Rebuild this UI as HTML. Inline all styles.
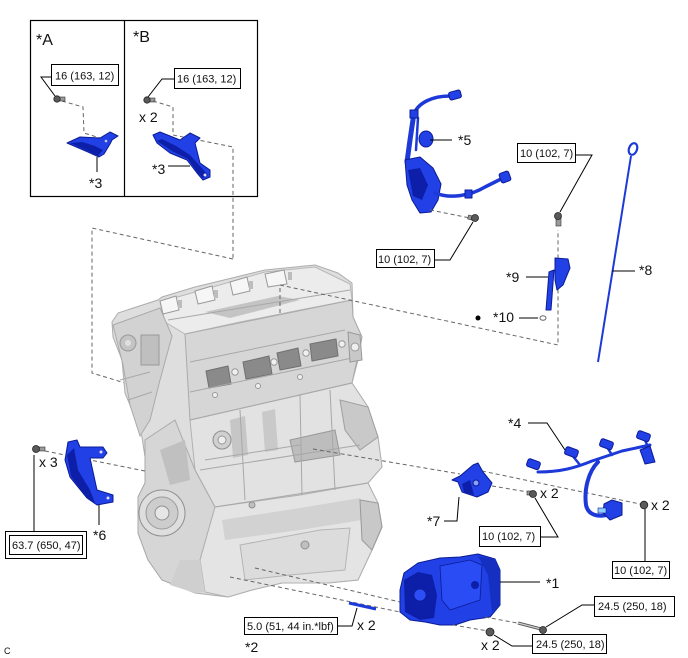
<!DOCTYPE html>
<html><head><meta charset="utf-8">
<style>
html,body{margin:0;padding:0;background:#fff;}
svg{display:block;}
text{font-family:"Liberation Sans",Arial,sans-serif;fill:#111;}
.lbl{font-size:11px;}
.st{font-size:14px;}
.box{fill:#fff;stroke:#000;stroke-width:1;}
.ld{fill:none;stroke:#000;stroke-width:1;}
.ds{fill:none;stroke:#666;stroke-width:1;stroke-dasharray:4 3;}
.bl{fill:#2140e6;stroke:#0b1c95;stroke-width:1;stroke-linejoin:round;}
.dk{fill:#0d1ea8;stroke:none;}
.wr{fill:none;stroke:#1d3ad8;stroke-linecap:round;stroke-linejoin:round;}
.en{fill:#dedede;stroke:#adadad;stroke-width:1;}
.ed{fill:none;stroke:#a8a8a8;stroke-width:1;}
.bh{fill:#5a5a5a;stroke:#222;stroke-width:0.8;}
.bs{fill:#9a9a9a;stroke:#333;stroke-width:0.6;}
</style></head><body>
<svg width="688" height="658" viewBox="0 0 688 658" xmlns="http://www.w3.org/2000/svg">

<!-- A/B box -->
<rect x="30.5" y="20.5" width="227" height="176" fill="none" stroke="#000" stroke-width="1.2"/>
<line x1="124.5" y1="20" x2="124.5" y2="196" stroke="#000" stroke-width="1.2"/>
<text x="36" y="45" style="font-size:16px">*A</text>
<text x="133" y="42" style="font-size:16px">*B</text>

<!-- A contents -->
<rect class="box" x="51.5" y="64.5" width="67" height="21"/>
<text class="lbl" x="55" y="79.5">16 (163, 12)</text>
<polyline class="ld" points="51,77 41,77 55,96"/>
<polyline class="ds" points="62,101 83,107 84,133 100,138"/>
<rect class="bs" x="57" y="97" width="8" height="4"/>
<circle class="bh" cx="57" cy="99" r="3.2"/>
<path class="bl" d="M67,143 L80,137 L100,138 L110,132 L118,136 L112,140 L110,144 L104,154 L99,157 L88,152 Z"/>
<path class="dk" d="M70,143 L88,151 L98,156 L103,150 L95,146 L82,142 Z"/>
<circle cx="106" cy="141" r="1.3" fill="#ccd"/>
<line class="ld" x1="97" y1="157" x2="97" y2="172"/>
<text class="st" x="89" y="188">*3</text>

<!-- B contents -->
<rect class="box" x="174.5" y="68.5" width="66" height="20"/>
<text class="lbl" x="177" y="82.5">16 (163, 12)</text>
<polyline class="ld" points="174,79 162,79 148,97"/>
<rect class="bs" x="147" y="98" width="8" height="4"/>
<circle class="bh" cx="147" cy="100" r="3.2"/>
<text class="st" x="139" y="122">x 2</text>
<polyline class="ds" points="153,101 173,107 173,135 233,147 233,259"/>
<path class="bl" d="M153,135 L160,132 L180,140 L190,133 L200,138 L195,143 L200,163 L210,170 L210,177 L203,180 L197,173 L187,160 L170,153 L157,143 Z"/>
<path class="dk" d="M157,141 L172,151 L188,159 L197,172 L203,178 L208,175 L199,165 L190,155 L176,146 L162,139 Z"/>
<circle cx="205" cy="175" r="1.5" fill="#dde"/>
<line class="ld" x1="168" y1="166" x2="190" y2="166"/>
<text class="st" x="152" y="174">*3</text>

<!-- dashed lines left of engine -->
<polyline class="ds" points="233,259 92,228 92,373 125,383"/>

<!-- ENGINE -->
<g>
<path class="en" d="M112,322 L118,313 L158,300 L162,297 L195,287 L232,278 L265,270 L315,265 L338,273 L352,283 L353,317 L362,337 L358,360 L352,383 L368,407 L378,437 L382,467 L368,483 L378,503 L382,527 L372,550 L358,580 L328,583 L282,583 L252,590 L228,597 L195,593 L162,580 L148,560 L138,533 L138,497 L145,483 L145,457 L142,437 L132,410 L125,393 L122,360 L113,337 Z"/>
<!-- cam cover top -->
<path d="M160,302 L265,272 L315,267 L350,284 L352,300 L300,310 L240,322 L185,334 L165,322 Z" fill="#ececec" stroke="#b8b8b8"/>
<path d="M205,312 L278,296 L300,300 L230,318 Z" fill="#c4c4c4"/>
<path class="ed" d="M168,320 L350,290"/>
<!-- coil packs -->
<g fill="#f6f6f6" stroke="#9a9a9a">
<path d="M160,301 L176,296 L179,310 L163,314 Z"/>
<path d="M195,291 L212,286 L215,300 L198,304 Z"/>
<path d="M230,282 L247,277 L250,291 L233,295 Z"/>
<path d="M265,274 L284,270 L287,284 L268,287 Z"/>
</g>
<g fill="#bdbdbd"><rect x="178" y="300" width="4" height="8"/><rect x="214" y="290" width="4" height="8"/><rect x="249" y="281" width="4" height="8"/><rect x="288" y="272" width="4" height="8"/></g>
<!-- timing cover left -->
<path d="M113,325 L160,308 L172,336 L160,380 L150,420 L140,436 L130,405 L123,365 Z" fill="#d2d2d2" stroke="#aaa"/>
<circle cx="128" cy="343" r="8" fill="#c4c4c4" stroke="#999"/>
<circle cx="128" cy="343" r="3" fill="#e0e0e0"/>
<rect x="141" y="335" width="18" height="30" fill="#bfbfbf" stroke="#999"/>
<path class="ed" d="M120,380 L150,372 M128,400 L152,392"/>
<!-- side face -->
<path d="M185,334 L352,300 L353,317 L362,337 L352,383 L300,395 L240,410 L190,420 Z" fill="#d6d6d6" stroke="#aaa"/>
<!-- intake windows -->
<g fill="#8a8a8a" stroke="#707070">
<path d="M206,371 L228,366 L231,384 L209,388 Z"/>
<path d="M243,362 L269,356 L272,374 L246,379 Z"/>
<path d="M277,353 L298,348 L301,366 L280,370 Z"/>
<path d="M310,344 L336,339 L338,356 L312,361 Z"/>
</g>
<g fill="#f0f0f0" stroke="#999">
<circle cx="235" cy="372" r="3.2"/><circle cx="274" cy="362" r="3.2"/><circle cx="306" cy="353" r="3.2"/><circle cx="342" cy="344" r="3.2"/>
<circle cx="215" cy="395" r="2.5"/><circle cx="258" cy="386" r="2.5"/><circle cx="300" cy="377" r="2.5"/>
</g>
<path class="ed" d="M190,392 L352,358"/>
<path class="ed" d="M190,362 L345,330"/>
<!-- right flange -->
<path d="M348,332 L360,335 L362,360 L350,362 Z" fill="#c8c8c8" stroke="#999"/>
<circle cx="355" cy="347" r="4" fill="#eee" stroke="#999"/>
<!-- block middle -->
<path d="M190,420 L300,395 L352,383 L368,407 L378,437 L382,467 L368,483 L300,495 L215,507 L195,470 Z" fill="#e2e2e2" stroke="#b0b0b0"/>
<path d="M230,420 L245,416 L248,455 L233,458 Z" fill="#c6c6c6"/>
<path d="M262,412 L275,409 L278,450 L265,452 Z" fill="#c9c9c9"/>
<path d="M290,440 L335,430 L340,455 L295,462 Z" fill="#bdbdbd" stroke="#999"/>
<circle cx="222" cy="440" r="9" fill="#d0d0d0" stroke="#8f8f8f"/>
<circle cx="222" cy="440" r="4" fill="#eee" stroke="#999"/>
<path d="M340,400 L368,407 L378,437 L360,450 L345,430 Z" fill="#c9c9c9" stroke="#a0a0a0"/>
<path class="ed" d="M200,470 L360,445"/>
<path class="ed" d="M205,460 L300,445"/>
<!-- front left region with pulley -->
<path d="M145,440 L175,420 L195,470 L215,507 L200,560 L175,585 L162,580 L148,560 L138,533 L138,497 L145,483 Z" fill="#d6d6d6" stroke="#aaa"/>
<path d="M160,450 L185,440 L190,480 L170,485 Z" fill="#c0c0c0"/>
<circle cx="162" cy="513" r="23" fill="#dedede" stroke="#8f8f8f"/>
<circle cx="162" cy="513" r="16" fill="#cdcdcd" stroke="#9a9a9a"/>
<circle cx="162" cy="513" r="7" fill="#e6e6e6" stroke="#909090"/>
<!-- oil pan -->
<path d="M215,507 L300,495 L368,483 L378,503 L382,527 L372,550 L358,580 L328,583 L282,583 L252,590 L228,597 L205,592 L200,560 Z" fill="#e4e4e4" stroke="#b0b0b0"/>
<path d="M222,520 L300,508 L360,498 L362,520 L300,530 L225,540 Z" fill="#d2d2d2"/>
<path d="M240,545 L320,530 L350,528 L345,570 L290,575 L245,580 Z" fill="#dcdcdc" stroke="#b5b5b5"/>
<circle cx="305" cy="545" r="4" fill="#c0c0c0" stroke="#8f8f8f"/>
<circle cx="252" cy="505" r="3" fill="#c0c0c0" stroke="#8f8f8f"/>
<path class="ed" d="M215,507 L368,483"/>
<path class="ed" d="M190,420 L352,383"/>
<path class="ed" d="M240,410 L245,500"/>
<path class="ed" d="M300,395 L302,495"/>
<path class="ed" d="M330,390 L335,490"/>
<path d="M360,500 L378,503 L382,527 L372,550 L362,540 Z" fill="#c8c8c8" stroke="#999"/>
<path d="M180,560 L200,560 L205,592 L195,593 L170,585 Z" fill="#cfcfcf"/>
</g>

<!-- dashed: top engine to *9 -->
<polyline class="ds" points="280,313 280,285 558,345 558,230"/>

<!-- *5 harness -->
<path class="wr" d="M414,114 C418,103 432,96 450,96" stroke-width="3.5"/>
<rect x="449" y="91" width="12" height="8" rx="2" class="bl" transform="rotate(-15 455 95)"/>
<path class="wr" d="M414,113 L410,140 L407,162" stroke-width="5"/>
<path class="wr" d="M418,118 L416,150" stroke-width="2.5"/>
<rect x="410" y="110" width="8" height="8" class="bl"/>
<ellipse cx="426" cy="139" rx="7" ry="8" class="bl"/>
<path class="bl" d="M405,160 L420,157 L433,168 L441,184 L438,200 L431,212 L420,213 L412,200 L407,185 Z"/>
<path class="dk" d="M408,170 L420,168 L428,185 L422,200 L413,196 Z"/>
<path class="wr" d="M435,193 C450,199 470,196 485,187 L503,178" stroke-width="3.5"/>
<rect x="500" y="172" width="10" height="10" rx="2" class="bl" transform="rotate(-20 505 177)"/>
<rect x="465" y="190" width="7" height="8" class="bl"/>
<line class="ld" x1="430" y1="140" x2="452" y2="140"/>
<text class="st" x="458" y="145">*5</text>
<polyline class="ds" points="430,210 470,218"/>
<rect class="bs" x="468" y="216" width="8" height="4" transform="rotate(15 472 218)"/>
<circle class="bh" cx="475" cy="218" r="3.5"/>
<rect class="box" x="376.5" y="249.5" width="58" height="18"/>
<text class="lbl" x="378" y="263">10 (102, 7)</text>
<polyline class="ld" points="435,260 450,260 473,222"/>

<!-- *9, *10, *8 -->
<rect class="box" x="517.5" y="143.5" width="58" height="19"/>
<text class="lbl" x="520" y="157">10 (102, 7)</text>
<polyline class="ld" points="576,155 592,155 560,212"/>
<rect class="bs" x="556" y="216" width="5" height="10"/>
<circle class="bh" cx="558" cy="216" r="3.5"/>
<path class="bl" d="M555,258 L568,259 L570,268 L563,285 L557,290 L555,280 Z"/>
<path class="bl" d="M549,272 L554,270 L551,310 L546,310 Z"/>
<line class="ld" x1="526" y1="277" x2="548" y2="277"/>
<text class="st" x="506" y="282">*9</text>
<circle cx="478" cy="318" r="2.5" fill="#000"/>
<text class="st" x="493" y="322">*10</text>
<line class="ld" x1="519" y1="318" x2="538" y2="318"/>
<ellipse cx="543" cy="318" rx="3" ry="2.3" fill="#fff" stroke="#666"/>
<ellipse cx="633" cy="149" rx="4" ry="6" fill="none" stroke="#1d3ad8" stroke-width="2.2" transform="rotate(20 633 149)"/>
<line x1="631" y1="156" x2="598" y2="362" stroke="#1d3ad8" stroke-width="2"/>
<line class="ld" x1="612" y1="271" x2="635" y2="271"/>
<text class="st" x="639" y="275">*8</text>

<!-- *6 -->
<polyline class="ds" points="45,451 145,471"/>
<rect class="bs" x="36" y="447" width="9" height="4"/>
<circle class="bh" cx="36" cy="449" r="3.5"/>
<text class="st" x="39" y="467">x 3</text>
<line class="ld" x1="34" y1="455" x2="34" y2="531"/>
<path class="bl" d="M68,442 L77,440 L80,447 L103,447 L107,453 L103,458 L90,458 L97,490 L113,495 L113,502 L97,505 L87,498 L70,477 L65,460 Z"/>
<path class="dk" d="M67,455 L74,448 L78,470 L90,490 L95,503 L86,497 L71,476 Z"/>
<circle cx="101" cy="452" r="1.5" fill="#dde"/><circle cx="108" cy="498" r="1.5" fill="#dde"/>
<line class="ld" x1="99" y1="505" x2="99" y2="525"/>
<text class="st" x="93" y="540">*6</text>
<rect class="box" x="5.5" y="531.5" width="81" height="27"/>
<rect class="box" x="9.5" y="535.5" width="73" height="19"/>
<text class="lbl" x="12" y="549">63.7 (650, 47)</text>

<!-- *7, *4 region -->
<polyline class="ds" points="313,449 460,474"/>
<polyline class="ds" points="482,471 640,504"/>
<polyline class="ds" points="492,486 528,492"/>
<path class="bl" d="M473,465 L478,463 L483,472 L492,483 L488,492 L477,497 L462,492 L458,482 L452,480 L460,476 Z"/>
<path class="dk" d="M462,484 L470,480 L474,495 L464,492 Z"/>
<circle cx="476" cy="483" r="3" fill="#8aa0f5" stroke="#0b1c95"/>
<polyline class="ld" points="444,521 457,521 459,497"/>
<text class="st" x="427" y="526">*7</text>
<rect class="bs" x="527" y="491" width="7" height="4"/>
<circle class="bh" cx="533" cy="494" r="3.5"/>
<text class="st" x="540" y="498">x 2</text>
<rect class="box" x="479.5" y="526.5" width="61" height="20"/>
<text class="lbl" x="482" y="540">10 (102, 7)</text>
<polyline class="ld" points="541,537 558,537 535,498"/>

<!-- *4 harness -->
<path class="wr" d="M538,472 C560,472 575,468 592,461 L622,451 L650,445" stroke-width="3"/>
<path class="wr" d="M572,455 L580,465 M607,447 L612,455 M645,440 L648,447" stroke-width="2.5"/>
<path class="wr" d="M598,462 C588,472 584,490 586,505 C588,515 598,518 610,514" stroke-width="4"/>
<path class="wr" d="M598,462 C588,472 584,490 586,505" stroke-width="1.2" stroke="#6f8af5"/>
<rect x="527" y="460" width="13" height="8" rx="2" class="bl" transform="rotate(20 533 464)"/>
<rect x="565" y="448" width="13" height="8" rx="2" class="bl" transform="rotate(20 571 452)"/>
<rect x="600" y="440" width="13" height="8" rx="2" class="bl" transform="rotate(20 606 444)"/>
<rect x="637" y="432" width="13" height="8" rx="2" class="bl" transform="rotate(20 643 436)"/>
<path class="bl" d="M640,450 L650,446 L655,462 L645,464 Z"/>
<path class="bl" d="M604,504 L612,500 L622,503 L622,515 L610,520 L603,513 Z"/>
<rect x="598" y="508" width="8" height="5" fill="#8fd0ff" stroke="#0b1c95" stroke-width="0.6"/>
<polyline class="ld" points="528,423 547,423 565,450"/>
<text class="st" x="508" y="428">*4</text>
<circle class="bh" cx="644" cy="505" r="3.8"/>
<text class="st" x="651" y="510">x 2</text>
<line class="ld" x1="645" y1="509" x2="645" y2="562"/>
<rect class="box" x="612.5" y="561.5" width="57" height="17"/>
<text class="lbl" x="614" y="574">10 (102, 7)</text>

<!-- compressor *1 -->
<polyline class="ds" points="230,577 400,612"/>
<polyline class="ds" points="255,568 400,602"/>
<path class="bl" d="M400,590 L404,573 L418,563 L440,558 L460,557 L478,554 L495,559 L500,570 L500,605 L490,617 L470,620 L455,625 L440,625 L425,622 L410,620 L400,612 Z"/>
<path class="dk" d="M404,580 L418,572 L432,575 L437,595 L434,618 L420,620 L405,612 Z"/>
<path d="M440,566 L470,560 L482,565 L480,600 L450,610 L442,600 Z" fill="#2a4cf5" stroke="#0b1c95" stroke-width="0.8"/>
<path d="M478,556 L495,559 L500,570 L500,605 L492,612 L488,575 Z" fill="#1530c0"/>
<circle cx="475" cy="585" r="4" fill="#0d1ea8"/>
<circle cx="420" cy="595" r="6" fill="#2d4ef7" stroke="#0b1c95" stroke-width="0.7"/>
<polyline class="ds" points="485,617 517,623"/>
<polyline class="ds" points="453,625 488,631"/>
<line class="ld" x1="500" y1="582" x2="540" y2="582"/>
<text class="st" x="546" y="588">*1</text>
<line x1="518" y1="623" x2="541" y2="629" stroke="#555" stroke-width="3.2"/>
<line x1="518" y1="623" x2="541" y2="629" stroke="#ccc" stroke-width="1.4"/>
<circle class="bh" cx="543" cy="630" r="3.5"/>
<rect class="box" x="594.5" y="596.5" width="80" height="20"/>
<text class="lbl" x="598" y="610">24.5 (250, 18)</text>
<polyline class="ld" points="594,605 582,605 546,627"/>
<circle class="bh" cx="490" cy="632" r="4"/>
<text class="st" x="481" y="650">x 2</text>
<rect class="box" x="532.5" y="634.5" width="74" height="19"/>
<text class="lbl" x="536" y="648">24.5 (250, 18)</text>
<polyline class="ld" points="532,646 512,646 494,635"/>

<!-- *2 -->
<line x1="349" y1="603" x2="376" y2="609" stroke="#1d3ad8" stroke-width="3"/>
<rect class="box" x="244.5" y="617.5" width="93" height="17"/>
<text class="lbl" x="247" y="630">5.0 (51, 44 in.*lbf)</text>
<polyline class="ld" points="338,626 352,626 357,608"/>
<text class="st" x="357" y="630">x 2</text>
<text class="st" x="245" y="652">*2</text>

<text x="4" y="654" style="font-size:9px">C</text>
</svg>
</body></html>
